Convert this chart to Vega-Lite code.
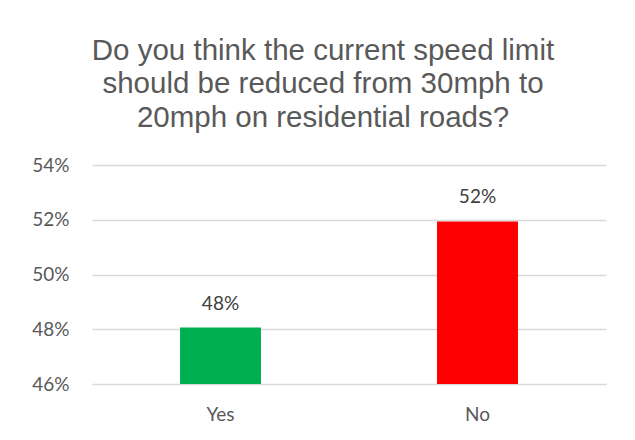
{
  "$schema": "https://vega.github.io/schema/vega-lite/v6.json",
  "autosize": "none",
  "padding": {"left": 92, "top": 165, "right": 29, "bottom": 56},
  "width": 514,
  "height": 219,
  "background": "white",
  "title": {
    "text": ["Do you think the current speed limit", "should be reduced from 30mph to", "20mph on residential roads?"],
    "font": "Liberation Sans",
    "fontSize": 29.5,
    "fontWeight": "normal",
    "color": "#595959",
    "lineHeight": 33.5,
    "anchor": "middle",
    "dx": -26,
    "offset": 23
  },
  "data": {
    "values": [
      {"answer": "Yes", "share": 0.4806},
      {"answer": "No", "share": 0.5194}
    ]
  },
  "config": {
    "view": {"stroke": null},
    "font": "Lato"
  },
  "encoding": {
    "x": {
      "field": "answer",
      "type": "nominal",
      "sort": ["Yes", "No"],
      "scale": {"paddingInner": 0.685, "paddingOuter": 0.3425},
      "axis": {
        "title": null,
        "labelAngle": 0,
        "domain": false,
        "ticks": false,
        "labelPadding": 21,
        "labelFont": "Lato",
        "labelFontSize": 19,
        "labelColor": "#595959"
      }
    },
    "y": {
      "field": "share",
      "type": "quantitative",
      "scale": {"domain": [0.46, 0.54], "zero": false, "clamp": true},
      "axis": {
        "title": null,
        "values": [0.46, 0.48, 0.5, 0.52, 0.54],
        "format": ".0%",
        "domain": false,
        "ticks": false,
        "labelPadding": 23,
        "labelFont": "Lato",
        "labelFontSize": 19,
        "labelColor": "#595959",
        "gridColor": "#d9d9d9",
        "gridWidth": 1.3
      }
    }
  },
  "layer": [
    {
      "mark": {"type": "bar"},
      "encoding": {
        "y2": {"datum": 0.46},
        "color": {
          "field": "answer",
          "type": "nominal",
          "scale": {"domain": ["Yes", "No"], "range": ["#00b050", "#ff0000"]},
          "legend": null
        }
      }
    },
    {
      "mark": {"type": "text", "baseline": "bottom", "dy": -14, "fontSize": 19, "font": "Lato", "color": "#404040"},
      "encoding": {
        "text": {"field": "share", "type": "quantitative", "format": ".0%"}
      }
    }
  ]
}
